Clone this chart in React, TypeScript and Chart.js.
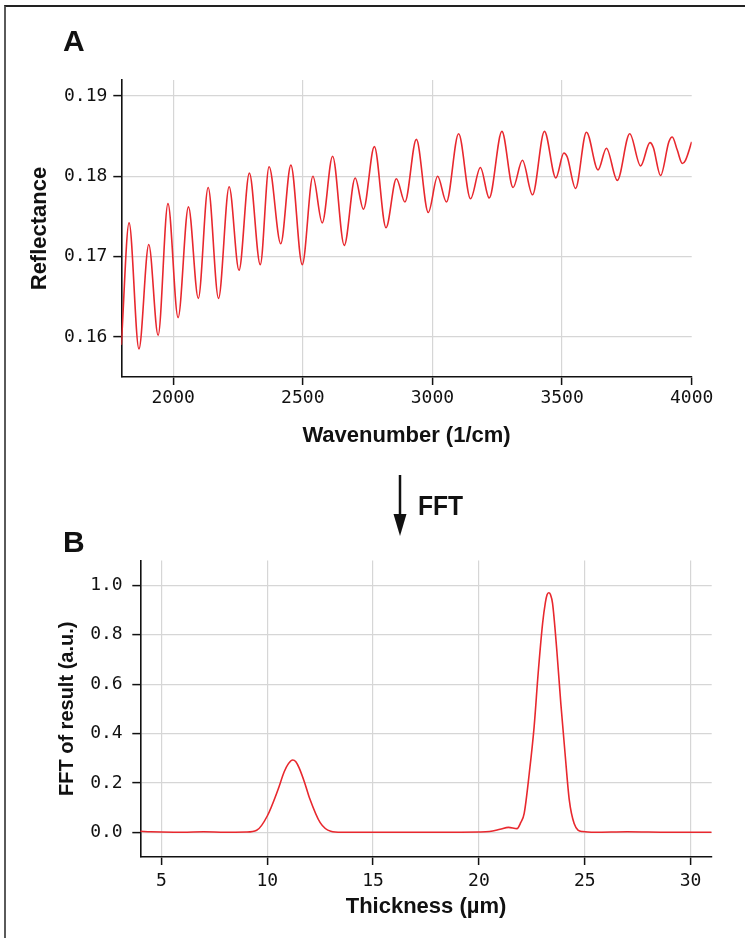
import React, { useEffect, useRef } from 'react';
import { Chart, registerables } from 'chart.js';
Chart.register(...registerables);

// Panel A: reflectance spectrum (wavenumber 1/cm -> reflectance)
const wavenumber = [
  1800, 1830, 1868, 1906, 1942, 1980, 2019, 2059, 2097, 2135, 2175, 2216, 2254, 2294, 2336, 2370,
  2415, 2454, 2498, 2539, 2575, 2615, 2660, 2702, 2734, 2776, 2821, 2861, 2894, 2938, 2984, 3020,
  3054, 3101, 3147, 3185, 3219, 3268, 3311, 3347, 3386, 3432, 3476, 3507, 3520, 3552, 3594, 3639,
  3671, 3713, 3761, 3803, 3839, 3852, 3880, 3912, 3925, 3944, 3964, 3976, 4000,
];
const reflectance = [
  0.1590, 0.1742, 0.1585, 0.1715, 0.1602, 0.1766, 0.1624, 0.1762, 0.1648, 0.1786, 0.1648, 0.1787,
  0.1683, 0.1804, 0.1690, 0.1812, 0.1716, 0.1814, 0.1690, 0.1800, 0.1742, 0.1825, 0.1714, 0.1798,
  0.1759, 0.1837, 0.1736, 0.1797, 0.1768, 0.1846, 0.1755, 0.1800, 0.1768, 0.1853, 0.1772, 0.1811,
  0.1773, 0.1856, 0.1786, 0.1820, 0.1777, 0.1856, 0.1798, 0.1829, 0.1824, 0.1785, 0.1855, 0.1808,
  0.1835, 0.1795, 0.1853, 0.1813, 0.1842, 0.1836, 0.1801, 0.1843, 0.1849, 0.1833, 0.1816, 0.1820,
  0.1843,
];
const wavenumberTicks = [2000, 2500, 3000, 3500, 4000];
const reflectanceTicks = [0.16, 0.17, 0.18, 0.19];

// Panel B: FFT result (thickness um -> amplitude)
const thickness = [
  4.0, 4.5, 5.0, 6.0, 7.0, 8.0, 9.0, 9.5, 10.0, 10.5, 10.8, 11.0, 11.2, 11.35, 11.5, 11.75, 12.0,
  12.5, 13.0, 13.5, 15.0, 18.0, 20.0, 20.5, 21.0, 21.4, 21.8, 21.98, 22.14, 22.38, 22.61, 22.8,
  23.01, 23.14, 23.22, 23.3, 23.38, 23.48, 23.68, 23.87, 24.07, 24.27, 24.5, 24.9, 25.5, 27.0, 29.0,
  31.0,
];
const fftValue = [
  0.004, 0.002, 0.001, 0.0, 0.002, 0.0, 0.001, 0.008, 0.066, 0.171, 0.245, 0.278, 0.293, 0.286,
  0.262, 0.205, 0.138, 0.039, 0.004, 0.0, 0.0, 0.0, 0.001, 0.003, 0.012, 0.02, 0.015, 0.04, 0.077,
  0.239, 0.428, 0.644, 0.846, 0.93, 0.962, 0.97, 0.963, 0.927, 0.738, 0.522, 0.32, 0.131, 0.036,
  0.003, 0.0, 0.002, 0.0, 0.0,
];
const thicknessTicks = [5, 10, 15, 20, 25, 30];
const fftTicks = [0, 0.2, 0.4, 0.6, 0.8, 1.0];

const RED = '#e8282e';
const GRID = '#d6d6d6';
const MONO = '"DejaVu Sans Mono", monospace';
const SANS = '"Liberation Sans", Arial, sans-serif';

function buildChart(
  canvas: HTMLCanvasElement,
  xs: number[],
  ys: number[],
  cfg: any,
) {
  const data = xs.map((x, i) => ({ x, y: ys[i] }));
  return new Chart(canvas, {
    type: 'line',
    data: {
      datasets: [
        {
          data,
          borderColor: RED,
          borderWidth: 1.6,
          pointRadius: 0,
          fill: false,
          cubicInterpolationMode: 'monotone',
        },
      ],
    },
    options: {
      animation: false,
      responsive: false,
      devicePixelRatio: 1,
      layout: { padding: cfg.padding },
      plugins: { legend: { display: false }, tooltip: { enabled: false } },
      scales: {
        x: {
          type: 'linear',
          min: cfg.xMin,
          max: cfg.xMax,
          afterBuildTicks: (s: any) => {
            s.ticks = cfg.xTicks.map((v: number) => ({ value: v }));
          },
          afterFit: (s: any) => {
            s.height = cfg.xHeight;
          },
          ticks: {
            font: { family: MONO, size: 18 },
            color: '#111',
            padding: cfg.xTickPad,
            maxRotation: 0,
            callback: (v: any) => String(v),
          },
          grid: {
            color: (c: any) => (c.tick && c.tick.value === cfg.xMax ? 'rgba(0,0,0,0)' : GRID),
            lineWidth: 1.2,
            tickColor: '#111',
            tickLength: 8,
            tickWidth: 1.5,
          },
          border: { display: true, color: '#111', width: 1.6 },
          title: {
            display: true,
            text: cfg.xTitle,
            font: { family: SANS, size: 22, weight: 'bold' },
            color: '#111',
            padding: { top: 0, bottom: cfg.xTitlePad },
          },
        },
        y: {
          type: 'linear',
          min: cfg.yMin,
          max: cfg.yMax,
          afterBuildTicks: (s: any) => {
            s.ticks = cfg.yTicks.map((v: number) => ({ value: v }));
          },
          afterFit: (s: any) => {
            s.width = cfg.yWidth;
          },
          ticks: {
            font: { family: MONO, size: 18 },
            color: '#111',
            padding: cfg.yTickPad,
            callback: (v: any) => Number(v).toFixed(cfg.yDec),
          },
          grid: {
            color: GRID,
            lineWidth: 1.2,
            tickColor: '#111',
            tickLength: 8,
            tickWidth: 1.5,
          },
          border: { display: true, color: '#111', width: 1.6 },
          title: {
            display: true,
            text: cfg.yTitle,
            font: { family: SANS, size: cfg.yTitleSize, weight: 'bold' },
            color: '#111',
            padding: { top: cfg.yTitlePad, bottom: 0 },
          },
        },
      },
    },
  } as any);
}

export default function App() {
  const refA = useRef<HTMLCanvasElement | null>(null);
  const refB = useRef<HTMLCanvasElement | null>(null);

  useEffect(() => {
    const a = buildChart(refA.current!, wavenumber, reflectance, {
      padding: { left: 0, right: 53.3, top: 80, bottom: 3 },
      xMin: 1800,
      xMax: 4000,
      xTicks: wavenumberTicks,
      xHeight: 80,
      xTickPad: 2.5,
      xTitle: 'Wavenumber (1/cm)',
      xTitlePad: 7.8,
      yMin: 0.155,
      yMax: 0.192,
      yTicks: reflectanceTicks,
      yWidth: 121.3,
      yTickPad: 6,
      yDec: 2,
      yTitle: 'Reflectance',
      yTitleSize: 22,
      yTitlePad: 26.8,
    });
    const b = buildChart(refB.current!, thickness, fftValue, {
      padding: { left: 0, right: 33.3, top: 80.6, bottom: 3 },
      xMin: 4,
      xMax: 31,
      xTicks: thicknessTicks,
      xHeight: 78,
      xTickPad: 5.5,
      xTitle: 'Thickness (µm)',
      xTitlePad: 14.8,
      yMin: -0.1,
      yMax: 1.1,
      yTicks: fftTicks,
      yWidth: 140.3,
      yTickPad: 9.6,
      yDec: 1,
      yTitle: 'FFT of result (a.u.)',
      yTitleSize: 20,
      yTitlePad: 55,
    });
    return () => {
      a.destroy();
      b.destroy();
    };
  }, []);

  const bold = (size: number): React.CSSProperties => ({
    position: 'absolute',
    fontFamily: SANS,
    fontWeight: 'bold',
    fontSize: size,
    lineHeight: 1,
    color: '#111',
    whiteSpace: 'nowrap',
  });

  return (
    <div
      style={{
        position: 'absolute',
        left: 0,
        top: 0,
        width: 745,
        height: 938,
        background: '#fff',
        overflow: 'hidden',
      }}
    >
      <div
        style={{
          position: 'absolute',
          left: 4,
          top: 5,
          width: 760,
          height: 960,
          borderLeft: '2px solid #5a5a5a',
          borderTop: '2px solid #222',
        }}
      />
      <canvas
        ref={refA}
        width={745}
        height={460}
        style={{ position: 'absolute', left: 0, top: 0, width: 745, height: 460 }}
      />
      <canvas
        ref={refB}
        width={745}
        height={458}
        style={{ position: 'absolute', left: 0, top: 480, width: 745, height: 458 }}
      />
      <div style={{ ...bold(30), left: 63, top: 26 }}>A</div>
      <div style={{ ...bold(30), left: 63, top: 527 }}>B</div>
      <svg
        style={{ position: 'absolute', left: 390, top: 470, width: 20, height: 70 }}
        width={20}
        height={70}
      >
        <line x1={10} y1={5} x2={10} y2={50} stroke="#111" strokeWidth={2.5} />
        <polygon points="3.5,44 16.5,44 10,66" fill="#111" />
      </svg>
      <div
        style={{
          ...bold(28),
          left: 418,
          top: 492,
          transform: 'scaleX(0.88)',
          transformOrigin: 'left top',
        }}
      >
        FFT
      </div>
    </div>
  );
}
